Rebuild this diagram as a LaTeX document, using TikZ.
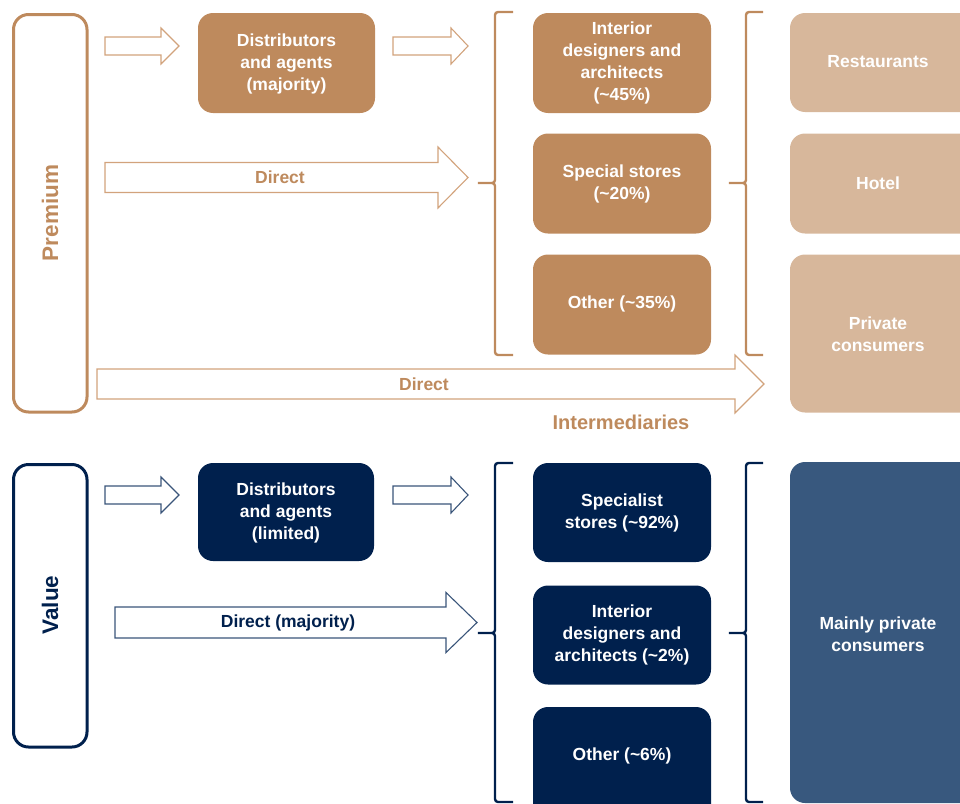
\documentclass[tikz,border=0pt]{standalone}
\usepackage{fontspec}
\setmainfont{Liberation Sans}
\definecolor{brn}{HTML}{BE8A5D}
\definecolor{brnlt}{HTML}{D7B79B}
\definecolor{brnar}{HTML}{D2A37C}
\definecolor{nvy}{HTML}{00204D}
\definecolor{nvyar}{HTML}{3A557A}
\definecolor{slate}{HTML}{38587E}
\newcommand{\blkarrow}[9]{% color, x1, xb, xt, ycenter, bodyhalf, headhalf, label, labelx
  \draw[#1, line width=1.1pt, line join=miter, fill=white]
    (#2,#5-#6) -- (#3,#5-#6) -- (#3,#5-#7) -- (#4,#5) -- (#3,#5+#7) -- (#3,#5+#6) -- (#2,#5+#6) -- cycle;
  \node[font=\fontsize{17.5}{20}\selectfont\bfseries] at (#9,#5) {#8};
}
\tikzset{
  fbox/.style={rounded corners=15pt, inner sep=0pt, text=white, align=center,
    font=\fontsize{17.5}{22.3}\selectfont\bfseries},
  lbl/.style={text=white, align=center, font=\fontsize{17.5}{22.3}\selectfont\bfseries},
  brace/.style={line width=2.4pt, rounded corners=3pt, line cap=butt},
  sidebox/.style={rounded corners=15pt, line width=3pt}
}
\begin{document}
\begin{tikzpicture}[x=1pt,y=-1pt]
\useasboundingbox (0,0) rectangle (960,803);
\clip (0,0) rectangle (960,803);
% ---------------- Premium ----------------
\draw[sidebox, brn] (13.5,14.5) rectangle (87,412);
\node[rotate=90, text=brn, font=\fontsize{22.5}{24}\selectfont\bfseries] (prem) at (50,213) {Premium};

\node[fbox, fill=brn, minimum width=177pt, minimum height=100pt] (pdist) at (286.5,63) {};
\node[lbl] at (286.5,64) {Distributors\\and agents\\(majority)};

\node[fbox, fill=brn, minimum width=178pt, minimum height=100pt] (pi1) at (622,63) {};
\node[lbl] at (622,63) {Interior\\designers and\\architects\\(\textasciitilde45\%)};
\node[fbox, fill=brn, minimum width=178pt, minimum height=100pt] (pi2) at (622,183.5) {};
\node[lbl] at (622,184) {Special stores\\(\textasciitilde20\%)};
\node[fbox, fill=brn, minimum width=178pt, minimum height=100pt] (pi3) at (622,304.5) {};
\node[lbl] at (622,304) {Other (\textasciitilde35\%)};

\node[fbox, fill=brnlt, minimum width=200pt, minimum height=99pt] (pr1) at (890,62.5) {};
\node[lbl] at (878,62) {Restaurants};
\node[fbox, fill=brnlt, minimum width=200pt, minimum height=100pt] (pr2) at (890,183.5) {};
\node[lbl] at (878,183) {Hotel};
\node[fbox, fill=brnlt, minimum width=200pt, minimum height=158pt] (pr3) at (890,333.5) {};
\node[lbl] at (878,334) {Private\\consumers};

\draw[brace, brn] (513,12) -- (495,12) -- (495,183) -- (476,183) -- (495,183) -- (495,355) -- (513,355);
\draw[brace, brn] (763,12) -- (746,12) -- (746,183) -- (727,183) -- (746,183) -- (746,355) -- (763,355);

\blkarrow{brnar}{105}{161}{179}{46}{9}{18}{}{140}
\blkarrow{brnar}{393}{451}{468}{46}{9}{18}{}{430}
\blkarrow{brnar}{105}{438}{468}{177.5}{15}{30.5}{\textcolor{brn}{Direct}}{280}
\blkarrow{brnar}{97}{735}{764}{384}{15}{29}{\textcolor{brn}{Direct}}{424}

\node[text=brn, font=\fontsize{20}{22}\selectfont\bfseries] (interm) at (621,422) {Intermediaries};

% ---------------- Value ----------------
\draw[sidebox, nvy] (13.5,464.5) rectangle (87,747);
\node[rotate=90, text=nvy, font=\fontsize{22.5}{24}\selectfont\bfseries] (val) at (50,605) {Value};

\node[fbox, fill=nvy, minimum width=176pt, minimum height=98pt] (vdist) at (286,512) {};
\node[lbl] at (286,513) {Distributors\\and agents\\(limited)};

\node[fbox, fill=nvy, minimum width=178pt, minimum height=99pt] (vi1) at (622,512.5) {};
\node[lbl] at (622,513) {Specialist\\stores (\textasciitilde92\%)};
\node[fbox, fill=nvy, minimum width=178pt, minimum height=99pt] (vi2) at (622,635) {};
\node[lbl] at (622,635) {Interior\\designers and\\architects (\textasciitilde2\%)};
\node[fbox, fill=nvy, minimum width=178pt, minimum height=120pt] (vi3) at (622,767) {};
\node[lbl] at (622,756) {Other (\textasciitilde6\%)};

\node[fbox, fill=slate, minimum width=200pt, minimum height=341pt] (vr) at (890,632.5) {};
\node[lbl] at (878,634) {Mainly private\\consumers};

\draw[brace, nvy] (513,463) -- (495,463) -- (495,633) -- (476,633) -- (495,633) -- (495,802) -- (513,802);
\draw[brace, nvy] (763,463) -- (746,463) -- (746,633) -- (727,633) -- (746,633) -- (746,802) -- (763,802);

\blkarrow{nvyar}{105}{161}{179}{495}{9}{18}{}{140}
\blkarrow{nvyar}{393}{451}{468}{495}{9}{18}{}{430}
\blkarrow{nvyar}{115}{446}{477}{622.5}{15.5}{30}{\textcolor{nvy}{Direct (majority)}}{288}
\end{tikzpicture}
\end{document}
